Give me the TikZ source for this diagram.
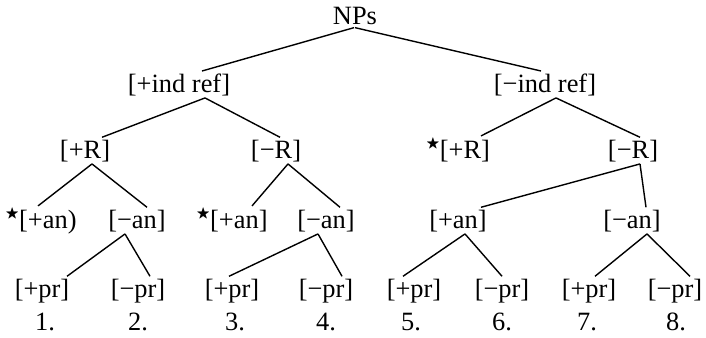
\documentclass[tikz,border=0pt]{standalone}
\usepackage{amssymb}
\usepackage{fontspec}
\setmainfont{Liberation Serif}
\newcommand{\ungram}{\raisebox{0.38em}{\scriptsize$\bigstar$}}

\begin{document}
\begin{tikzpicture}[x=0.5pt, y=-0.5pt, font=\fontsize{13.2}{16}\selectfont,
  feat/.style={inner sep=1pt, anchor=base},
  num/.style={inner sep=1pt, anchor=base},
  br/.style={line width=0.7pt}]
  \useasboundingbox (0,0) rectangle (706,337);
  \node[feat] (np)  at (355,25)  {NPs};
  \node[feat] (ip)  at (179,92)  {[+ind ref]};
  \node[feat] (im)  at (545,92)  {[−ind ref]};
  \node[feat] (rp1) at (85,158)  {[+R]};
  \node[feat] (rm1) at (276,158) {[−R]};
  \node[feat] (rp2) at (458,158) {\ungram[+R]};
  \node[feat] (rm2) at (633,158) {[−R]};
  \node[feat] (a1)  at (41,228)  {\ungram[+an)};
  \node[feat] (a2)  at (137,228) {[−an]};
  \node[feat] (a3)  at (232,228) {\ungram[+an]};
  \node[feat] (a4)  at (326,228) {[−an]};
  \node[feat] (a5)  at (458,228) {[+an]};
  \node[feat] (a6)  at (632,228) {[−an]};
  \node[feat] (p1)  at (42,297)  {[+pr]};
  \node[feat] (p2)  at (138,297) {[−pr]};
  \node[feat] (p3)  at (232,297) {[+pr]};
  \node[feat] (p4)  at (326,297) {[−pr]};
  \node[feat] (p5)  at (414,297) {[+pr]};
  \node[feat] (p6)  at (502,297) {[−pr]};
  \node[feat] (p7)  at (589,297) {[+pr]};
  \node[feat] (p8)  at (675,297) {[−pr]};
  \node[num] (n1) at (45,330)  {1.};
  \node[num] (n2) at (138,330) {2.};
  \node[num] (n3) at (235,330) {3.};
  \node[num] (n4) at (326,330) {4.};
  \node[num] (n5) at (411,330) {5.};
  \node[num] (n6) at (502,330) {6.};
  \node[num] (n7) at (587,330) {7.};
  \node[num] (n8) at (676,330) {8.};
  % branches
  \draw[br] ([xshift=-0.5pt]np.south) -- ([xshift=11.5pt]ip.north);
  \draw[br] (np.south) -- ([xshift=-2pt]im.north);
  \draw[br] ([xshift=13pt]ip.south) -- ([xshift=8.5pt]rp1.north);
  \draw[br] ([xshift=13pt]ip.south) -- ([xshift=2pt]rm1.north);
  \draw[br] ([xshift=5.5pt]im.south) -- ([xshift=11.5pt]rp2.north);
  \draw[br] ([xshift=5.5pt]im.south) -- ([xshift=3.5pt]rm2.north);
  \draw[br] ([xshift=3.5pt]rp1.south) -- ([xshift=-1.5pt]a1.north);
  \draw[br] ([xshift=3.5pt]rp1.south) -- ([xshift=5pt]a2.north);
  \draw[br] ([xshift=6pt]rm1.south) -- ([xshift=10pt]a3.north);
  \draw[br] ([xshift=6pt]rm1.south) -- ([xshift=7pt]a4.north);
  \draw[br] ([xshift=3.5pt]rm2.south) -- ([xshift=11.5pt]a5.north);
  \draw[br] ([xshift=3.5pt]rm2.south) -- ([xshift=7pt]a6.north);
  \draw[br] ([xshift=-6pt]a2.south) -- ([xshift=12.5pt]p1.north);
  \draw[br] ([xshift=-6pt]a2.south) -- ([xshift=6pt]p2.north);
  \draw[br] ([xshift=-4pt]a4.south) -- ([xshift=-1.5pt]p3.north);
  \draw[br] ([xshift=-4pt]a4.south) -- ([xshift=8pt]p4.north);
  \draw[br] ([xshift=3.5pt]a5.south) -- ([xshift=-5.5pt]p5.north);
  \draw[br] ([xshift=3.5pt]a5.south) -- (p6.north);
  \draw[br] ([xshift=7.5pt]a6.south) -- ([xshift=3pt]p7.north);
  \draw[br] ([xshift=7.5pt]a6.south) -- ([xshift=7.5pt]p8.north);
\end{tikzpicture}
\end{document}
